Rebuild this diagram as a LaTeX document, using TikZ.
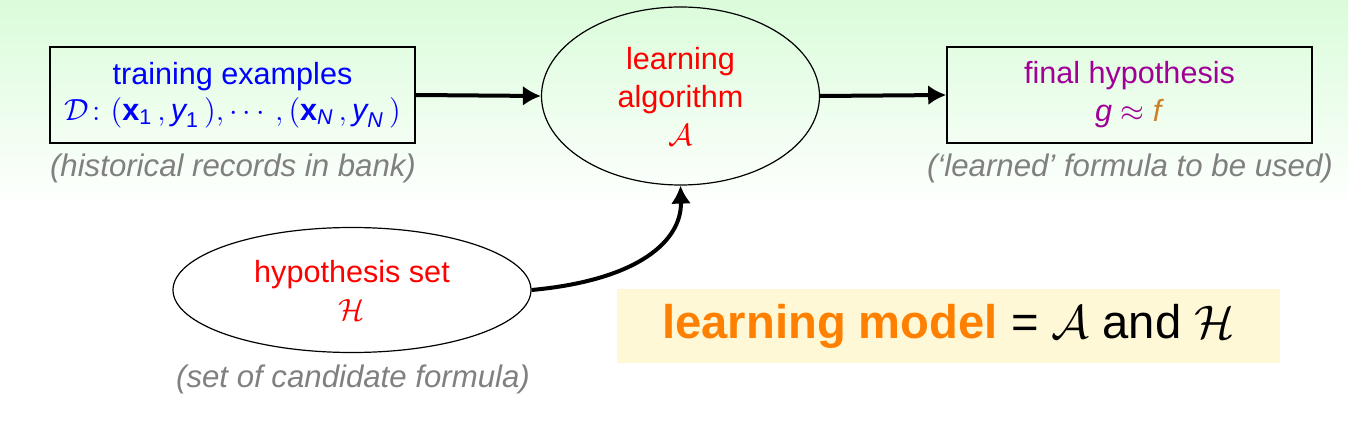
\RequirePackage{fix-cm}
\documentclass[tikz,border=0pt]{standalone}
\usepackage{amsmath}
\usepackage{fontspec}
\setmainfont{Liberation Sans}
\usetikzlibrary{arrows.meta,shapes.geometric}
\definecolor{bggreen}{RGB}{218,252,218}
\definecolor{capgray}{RGB}{128,128,128}
\definecolor{hpurple}{RGB}{160,0,150}
\definecolor{forange}{RGB}{204,128,40}
\definecolor{modelorange}{RGB}{255,128,0}
\definecolor{modelbg}{RGB}{255,248,214}
\tikzset{
  mainfont/.style={font=\fontsize{15.3}{19}\selectfont},
  boxnode/.style={draw=black, line width=0.8pt, minimum width=182.5pt, minimum height=48pt, align=center, inner sep=0pt, mainfont},
  ellnode/.style={draw=black, line width=0.6pt, ellipse, align=center, inner sep=0pt, mainfont, text=red},
  caption/.style={text=capgray, font=\fontsize{15.6}{18}\selectfont\itshape, inner sep=0pt},
  flow/.style={line width=2pt, -{Latex[length=9pt,width=10pt]}},
}
\begin{document}
\begin{tikzpicture}[x=0.5pt,y=-0.5pt]
\useasboundingbox (0,0) rectangle (1359,422);
\shade[top color=bggreen, bottom color=white] (0,0) rectangle (1348,210);

\node[boxnode, text=blue] (train) at (232.5,95)
  {training examples\\[-1pt]
   $\mathcal{D}\colon (\textbf{x}_{\text{1}}\,, \textit{y}_{\text{1}}\,), \cdots, (\textbf{x}_{\textit{N}}\,, \textit{y}_{\textit{N}}\,)$};
\node[caption] (traincap) at (233,168) {(historical records in bank)};

\node[ellnode, minimum width=139pt, minimum height=89pt] (alg) at (680.5,96)
  {learning\\algorithm\\$\mathcal{A}$};

\node[boxnode, text=hpurple] (final) at (1129.5,95)
  {final hypothesis\\\textit{g} $\approx$ \textcolor{forange}{\textit{f}}};
\node[caption] (finalcap) at (1130,168) {(`learned' formula to be used)};

\node[ellnode, minimum width=179pt, minimum height=62.5pt] (hyp) at (352,290)
  {hypothesis set\\$\mathcal{H}$};
\node[caption] (hypcap) at (353,379) {(set of candidate formula)};

\node[fill=modelbg, minimum width=331.5pt, minimum height=37pt, inner sep=0pt,
      font=\fontsize{23.6}{26}\selectfont] (model) at (948.5,326)
  {\textcolor{modelorange}{\textbf{learning model}} = $\mathcal{A}$ and $\mathcal{H}$};

\draw[flow] (train.east) -- (alg.west);
\draw[flow] (alg.east) -- (final.west);
\draw[flow] (hyp.east) .. controls (640,280) and (682,240) .. (alg.south);
\end{tikzpicture}
\end{document}
